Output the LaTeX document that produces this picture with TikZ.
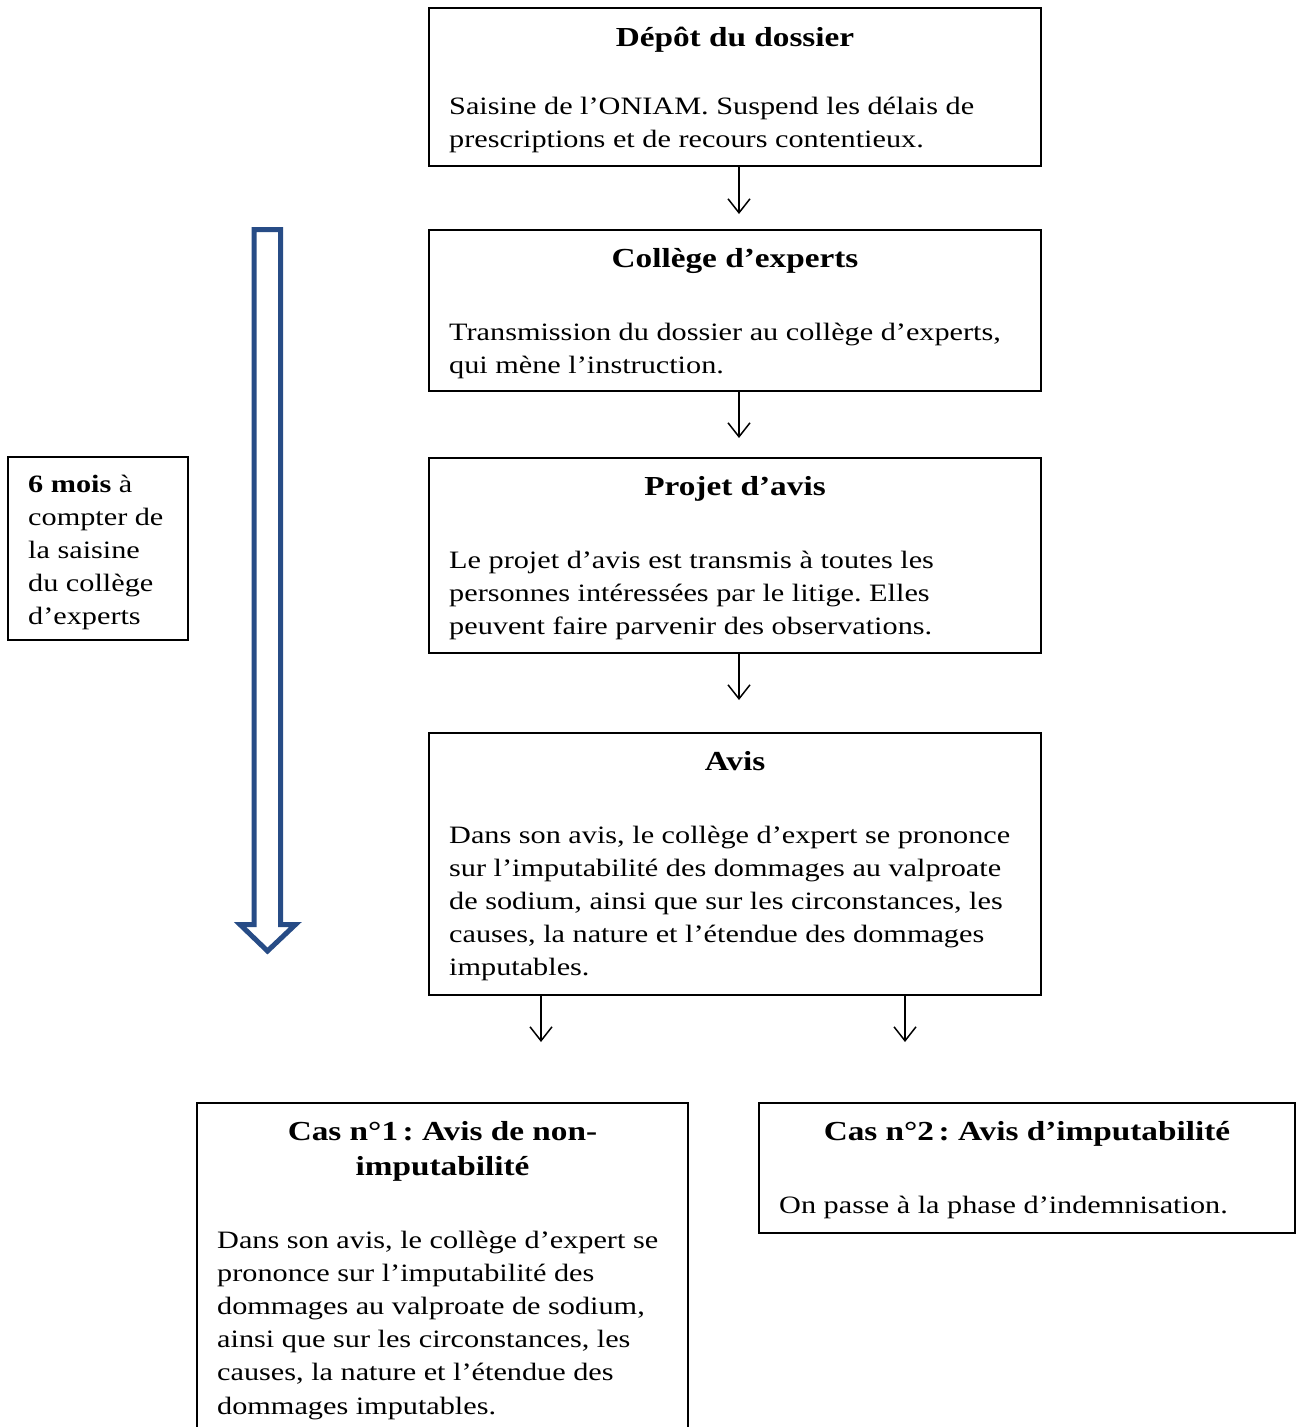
\documentclass[tikz,border=0pt]{standalone}
\usepackage{fontspec}
\setmainfont{Liberation Serif}[FakeStretch=1.21]
\usetikzlibrary{arrows.meta}
\definecolor{arrowblue}{RGB}{39,76,134}
\frenchspacing
\newcommand{\bodysz}{\fontsize{25}{33}\selectfont}
\newcommand{\ttlsz}{\fontsize{27.5}{33}\selectfont\bfseries}
\begin{document}
\begin{tikzpicture}[x=1pt,y=-1pt,
  box/.style={draw=black, line width=1.8pt, inner sep=0pt, fill=none},
  bodyline/.style={font=\bodysz, anchor=base west, inner sep=0pt},
  ttl/.style={font=\ttlsz, anchor=base, inner sep=0pt},
  arr/.style={line width=1.5pt, -{Straight Barb[length=14pt,width=22pt]}}]
\path[use as bounding box, clip] (0,0) rectangle (1297,1427);
\fill[white] (0,0) rectangle (1297,1427);

% boxes
\node[box, minimum width=612pt, minimum height=158pt] (b1) at (735,87) {};
\node[box, minimum width=612pt, minimum height=161pt] (b2) at (735,310.5) {};
\node[box, minimum width=612pt, minimum height=195pt] (b3) at (735,555.5) {};
\node[box, minimum width=612pt, minimum height=262pt] (b4) at (735,864) {};
\node[box, minimum width=491pt, minimum height=342pt] (b5) at (442.5,1274) {};
\node[box, minimum width=536pt, minimum height=130pt] (b6) at (1027,1168) {};
\node[box, minimum width=180pt, minimum height=183pt] (b0) at (98,548.5) {};

% titles
\node[ttl] (t1) at (735,46) {Dépôt du dossier};
\node[ttl] (t2) at (735,267) {Collège d’experts};
\node[ttl] (t3) at (735,495) {Projet d’avis};
\node[ttl] (t4) at (735,770) {Avis};
\node[ttl] (t5a) at (442.5,1140) {Cas n°1\,: Avis de non-};
\node[ttl] (t5b) at (442.5,1175) {imputabilité};
\node[ttl] (t6) at (1027,1140) {Cas n°2\,: Avis d’imputabilité};

% bodies
\foreach \t [count=\i from 0] in {{Saisine de l’ONIAM. Suspend les délais de},{prescriptions et de recours contentieux.}}
  \node[bodyline] (l1\i) at (449,{114+33*\i}) {\t};
\foreach \t [count=\i from 0] in {{Transmission du dossier au collège d’experts,},{qui mène l’instruction.}}
  \node[bodyline] (l2\i) at (449,{340+33*\i}) {\t};
\foreach \t [count=\i from 0] in {{Le projet d’avis est transmis à toutes les},{personnes intéressées par le litige. Elles},{peuvent faire parvenir des observations.}}
  \node[bodyline] (l3\i) at (449,{568+33*\i}) {\t};
\foreach \t [count=\i from 0] in {{Dans son avis, le collège d’expert se prononce},{sur l’imputabilité des dommages au valproate},{de sodium, ainsi que sur les circonstances, les},{causes, la nature et l’étendue des dommages},{imputables.}}
  \node[bodyline] (l4\i) at (449,{843+33*\i}) {\t};
\foreach \t [count=\i from 0] in {{Dans son avis, le collège d’expert se},{prononce sur l’imputabilité des},{dommages au valproate de sodium,},{ainsi que sur les circonstances, les},{causes, la nature et l’étendue des},{dommages imputables.}}
  \node[bodyline] (l5\i) at (217,{1248+33.2*\i}) {\t};
\node[bodyline] (l60) at (779,1213) {On passe à la phase d’indemnisation.};
\foreach \t [count=\i from 0] in {{\textbf{6 mois} à},{compter de},{la saisine},{du collège},{d’experts}}
  \node[bodyline] (l0\i) at (28,{492+33*\i}) {\t};

% connectors
\coordinate (e1) at (739,214);
\coordinate (e2) at (739,438);
\coordinate (e3) at (739,700);
\coordinate (e4) at (541,1042);
\coordinate (e5) at (905,1042);
\draw[arr] (b1.south -| e1) -- (e1);
\draw[arr] (b2.south -| e2) -- (e2);
\draw[arr] (b3.south -| e3) -- (e3);
\draw[arr] (b4.south -| e4) -- (e4);
\draw[arr] (b4.south -| e5) -- (e5);

% block arrow
\draw[arrowblue, line width=5pt, line join=miter]
  (254.2,229.5) -- (280.5,229.5) -- (280.5,924.5) -- (295.5,924.5) -- (267.5,951)
  -- (240,924.5) -- (254.2,924.5) -- cycle;
\end{tikzpicture}
\end{document}
